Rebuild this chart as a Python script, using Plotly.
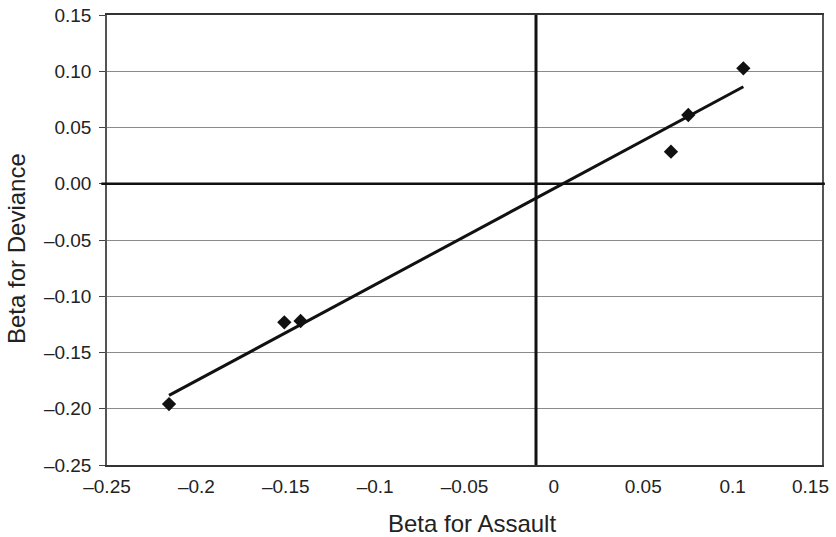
import numpy as np
import plotly.graph_objects as go

# Data
beta_assault = [-0.2153, -0.1508, -0.1417, 0.0655, 0.0752, 0.1060]
beta_deviance = [-0.1958, -0.1232, -0.1220, 0.0285, 0.0611, 0.1026]

x_tickvals = [-0.25, -0.2, -0.15, -0.1, -0.05, 0, 0.05, 0.1, 0.15]
x_ticktext = ["–0.25", "–0.2", "–0.15", "–0.1", "–0.05", "0", "0.05", "0.1", "0.15"]
y_tickvals = [0.15, 0.10, 0.05, 0.0, -0.05, -0.10, -0.15, -0.20, -0.25]
y_ticktext = ["0.15", "0.10", "0.05", "0.00", "–0.05", "–0.10", "–0.15", "–0.20", "–0.25"]

x_cross = -0.01   # where the vertical axis line crosses
y_cross = 0.0

# Linear trend fitted from the points
slope, intercept = np.polyfit(beta_assault, beta_deviance, 1)
trend_x = np.array([min(beta_assault), max(beta_assault)])
trend_y = slope * trend_x + intercept

FONT = "Liberation Sans, Arial, sans-serif"

fig = go.Figure()
fig.add_trace(go.Scatter(x=trend_x, y=trend_y, mode="lines",
                         line=dict(color="#111111", width=3), showlegend=False))
fig.add_trace(go.Scatter(x=beta_assault, y=beta_deviance, mode="markers",
                         marker=dict(symbol="diamond", size=11, color="#111111"),
                         showlegend=False))

fig.add_shape(type="line", xref="x", yref="paper", x0=x_cross, x1=x_cross, y0=0, y1=1,
              line=dict(color="#111111", width=3))
fig.add_shape(type="line", xref="paper", yref="y", x0=-0.008, x1=1.004, y0=y_cross, y1=y_cross,
              line=dict(color="#111111", width=2.5))

# last x tick label is drawn shifted left (as in the reference) so it stays inside the page
axis_ticktext = x_ticktext[:-1] + [""]

fig.update_layout(
    width=836, height=537,
    margin=dict(l=107, r=14, t=15, b=72),
    paper_bgcolor="white", plot_bgcolor="white",
    font=dict(family=FONT, color="#222222"),
    xaxis=dict(range=[-0.25, 0.15], tickvals=x_tickvals, ticktext=axis_ticktext,
               tickfont=dict(size=19), showgrid=False, zeroline=False,
               showline=True, linecolor="#333333", linewidth=1.5, mirror=True,
               ticks="outside", ticklen=3, tickcolor="rgba(0,0,0,0)",
               automargin=False),
    yaxis=dict(range=[-0.25, 0.15], tickvals=y_tickvals, ticktext=y_ticktext,
               tickfont=dict(size=19), showgrid=True, gridcolor="#8a8a8a", gridwidth=1,
               zeroline=False, showline=True, linecolor="#555555", linewidth=1.5, mirror=True,
               ticks="outside", ticklen=6, tickcolor="#444444", ticklabelstandoff=4,
               automargin=False),
    annotations=[
        dict(text=x_ticktext[-1], xref="x", yref="paper", x=x_tickvals[-1], y=0,
             xanchor="center", yanchor="middle", xshift=-12, yshift=-21, showarrow=False,
             font=dict(size=19, family=FONT, color="#222222")),
        dict(text="Beta for Assault", xref="paper", yref="paper", x=(472 - 107) / 715,
             y=-(523 - 465) / 450, xanchor="center", yanchor="middle", showarrow=False,
             font=dict(size=24, family=FONT, color="#222222")),
        dict(text="Beta for Deviance", xref="paper", yref="paper", x=-(107 - 16) / 715,
             y=(465 - 249) / 450, xanchor="center", yanchor="middle", showarrow=False,
             textangle=-90, font=dict(size=24, family=FONT, color="#222222")),
    ],
)

fig.write_html("out.html")
